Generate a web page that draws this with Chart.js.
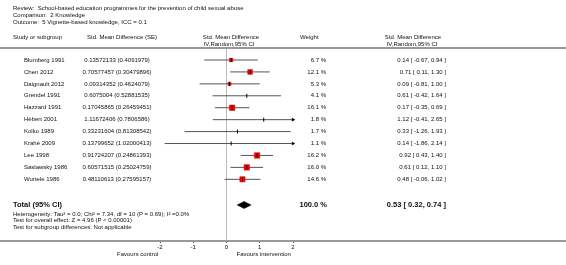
<!DOCTYPE html>
<html><head><meta charset="utf-8">
<script src="https://cdn.jsdelivr.net/npm/chart.js@4/dist/chart.umd.min.js"></script>
<style>html,body{margin:0;padding:0;background:#fff;}#wrap{width:566px;height:265px;position:relative;}</style>
</head><body><div id="wrap"><canvas id="c"></canvas></div>
<script>
const titleLines = ["Review:  School-based education programmes for the prevention of child sexual abuse",
  "Comparison:  2 Knowledge",
  "Outcome:  5 Vignette-based knowledge, ICC = 0.1"];
const studies = ["Blumberg 1991","Chen 2012","Daignault 2012","Grendel 1991","Hazzard 1991","Hébert 2001","Kolko 1989","Krahé 2009","Lee 1998","Saslawsky 1986","Wurtele 1986"];
const seText = ["0.13572133 (0.4091979)","0.70577457 (0.30479896)","0.09314352 (0.4624079)","0.6075004 (0.52881535)","0.17045865 (0.26459451)","1.11672406 (0.7806586)","0.33231604 (0.81308542)","0.13799652 (1.02000413)","0.91724207 (0.24861393)","0.60571515 (0.25024759)","0.48110613 (0.27595157)"];
const est   = [0.14, 0.71, 0.09, 0.61, 0.17, 1.12, 0.33, 0.14, 0.92, 0.61, 0.48];
const lower = [-0.67, 0.11, -0.81, -0.42, -0.35, -0.41, -1.26, -1.86, 0.43, 0.12, -0.06];
const upper = [0.94, 1.30, 1.00, 1.64, 0.69, 2.65, 1.93, 2.14, 1.40, 1.10, 1.02];
const weights = [6.7, 12.1, 5.3, 4.1, 16.1, 1.8, 1.7, 1.1, 16.2, 16.0, 14.6];
const total = {label: "Total (95% CI)", est: 0.53, lo: 0.32, hi: 0.74, weight: 100.0};
const footLines = ["Heterogeneity: Tau\u00B2 = 0.0; Chi\u00B2 = 7.34, df = 10 (P = 0.69); I\u00B2 =0.0%",
  "Test for overall effect: Z = 4.96 (P < 0.00001)",
  "Test for subgroup differences: Not applicable"];
const xTicks = [-2, -1, 0, 1, 2];
const favours = ["Favours control", "Favours intervention"];

const XMIN = -2, XMAX = 2;
const TOTAL_ROW = 12.15;
const FONT = "'Liberation Sans', Arial, sans-serif";
const clampX = v => Math.max(XMIN, Math.min(XMAX, v));
const fmt = v => v.toFixed(2);

const datasets = [];
studies.forEach((s, i) => {
  datasets.push({type: 'line', data: [{x: clampX(lower[i]), y: i}, {x: clampX(upper[i]), y: i}],
    borderColor: '#555', borderWidth: 1, pointRadius: 0, fill: false, order: 5});
});
datasets.push({type: 'scatter', data: est.map((v, i) => ({x: v, y: i})),
  pointStyle: 'rect', pointRadius: weights.map(w => w >= 5 ? 0.97 * Math.sqrt(w) : 0),
  backgroundColor: '#ff0000', borderColor: '#d00000', borderWidth: 0.5, order: 3});
datasets.push({type: 'scatter', data: est.map((v, i) => ({x: v, y: i})),
  pointStyle: 'line', rotation: 90, pointRadius: 2, borderColor: '#000', borderWidth: 1, order: 2});
const arrows = [];
studies.forEach((s, i) => {
  if (upper[i] > XMAX) arrows.push({x: XMAX, y: i, r: 90});
  if (lower[i] < XMIN) arrows.push({x: XMIN, y: i, r: -90});
});
datasets.push({type: 'scatter', data: arrows.map(a => ({x: a.x, y: a.y})),
  pointStyle: 'triangle', rotation: arrows.map(a => a.r), pointRadius: 1.8,
  backgroundColor: '#000', borderColor: '#000', borderWidth: 0.5, order: 1, clip: false});
datasets.push({type: 'line', data: [
    {x: total.lo, y: TOTAL_ROW}, {x: total.est, y: TOTAL_ROW - 0.3},
    {x: total.hi, y: TOTAL_ROW}, {x: total.est, y: TOTAL_ROW + 0.3}, {x: total.lo, y: TOTAL_ROW}],
  borderColor: '#000', backgroundColor: '#000', borderWidth: 0.5, pointRadius: 0, fill: 'shape', tension: 0, order: 1});

const textPlugin = {
  id: 'forestText',
  afterDraw(chart) {
    const ctx = chart.ctx, ys = chart.scales.y, xs = chart.scales.x;
    const W = chart.width;
    ctx.save();
    ctx.strokeStyle = '#999'; ctx.lineWidth = 2;
    ctx.beginPath(); ctx.moveTo(0, 48); ctx.lineTo(W, 48); ctx.stroke();
    ctx.beginPath(); ctx.moveTo(0, chart.chartArea.bottom); ctx.lineTo(W, chart.chartArea.bottom); ctx.stroke();
    ctx.fillStyle = '#111';
    ctx.textBaseline = 'middle';
    ctx.font = '6px ' + FONT;
    ctx.textAlign = 'left';
    titleLines.forEach((t, k) => ctx.fillText(t, 13, 8.5 + k * 7));
    // headers
    ctx.fillText('Study or subgroup', 13, 37);
    ctx.textAlign = 'center';
    ctx.fillText('Std. Mean Difference (SE)', 122, 37);
    ctx.fillText('Std. Mean Difference', 231, 37);
    ctx.fillText('IV,Random,95% CI', 229, 44);
    ctx.textAlign = 'left';
    ctx.fillText('Weight', 300, 37);
    ctx.textAlign = 'center';
    ctx.fillText('Std. Mean Difference', 413, 37);
    ctx.fillText('IV,Random,95% CI', 412, 44);
    // rows
    studies.forEach((s, i) => {
      const y = ys.getPixelForValue(i);
      ctx.textAlign = 'left'; ctx.fillText(s, 24, y);
      ctx.textAlign = 'center'; ctx.fillText(seText[i], 117, y);
      ctx.textAlign = 'right'; ctx.fillText(weights[i].toFixed(1) + ' %', 326, y);
      ctx.fillText(fmt(est[i]) + ' [ ' + fmt(lower[i]) + ', ' + fmt(upper[i]) + ' ]', 446, y);
    });
    const ty = ys.getPixelForValue(TOTAL_ROW);
    ctx.font = 'bold 7.5px ' + FONT;
    ctx.textAlign = 'left'; ctx.fillText(total.label, 13, ty);
    ctx.textAlign = 'right';
    ctx.fillText(total.weight.toFixed(1) + ' %', 327, ty);
    ctx.fillText(fmt(total.est) + ' [ ' + fmt(total.lo) + ', ' + fmt(total.hi) + ' ]', 446, ty);
    ctx.font = '6px ' + FONT; ctx.textAlign = 'left';
    footLines.forEach((t, k) => ctx.fillText(t, 13, ty + 9 + k * 6.5));
    // favours labels
    const by = chart.chartArea.bottom + 13;
    ctx.textAlign = 'right'; ctx.fillText(favours[0], xs.getPixelForValue(-2.05), by);
    ctx.textAlign = 'left'; ctx.fillText(favours[1], xs.getPixelForValue(0.3), by);
    ctx.restore();
  }
};

new Chart(document.getElementById('c'), {
  type: 'scatter',
  data: {datasets},
  options: {
    responsive: true, maintainAspectRatio: false, animation: false,
    devicePixelRatio: 1,
    layout: {padding: {left: 160, right: 273, top: 48, bottom: 12}},
    plugins: {legend: {display: false}, tooltip: {enabled: false}},
    scales: {
      x: {type: 'linear', min: XMIN, max: XMAX,
        afterBuildTicks: s => { s.ticks = xTicks.map(v => ({value: v})); },
        afterFit: s => { s.height = 12; },
        ticks: {font: {size: 6, family: FONT}, color: '#111', padding: 1, maxRotation: 0},
        grid: {color: c => (c.tick && c.tick.value === 0) ? '#bbb' : 'rgba(0,0,0,0)',
               tickColor: '#555', tickLength: 2, lineWidth: 1},
        border: {display: false}},
      y: {type: 'linear', min: -1.006, max: 15.17, reverse: true, display: false}
    }
  },
  plugins: [textPlugin]
});
</script></body></html>
